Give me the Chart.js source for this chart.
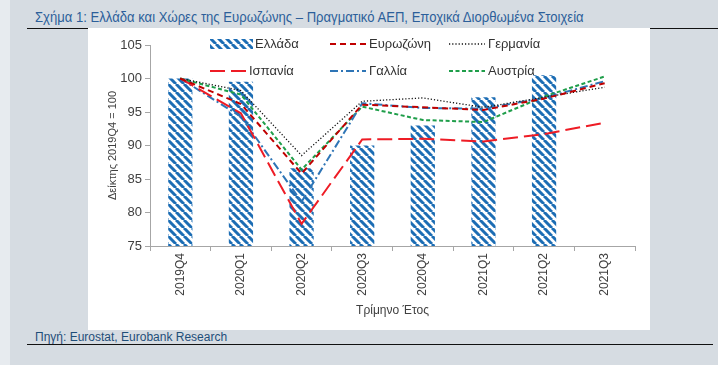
<!DOCTYPE html>
<html>
<head>
<meta charset="utf-8">
<script src="https://cdn.jsdelivr.net/npm/chart.js@4"></script>
<style>
  html, body { margin: 0; padding: 0; }
  body { width: 718px; height: 365px; background: #d6dce2; position: relative; overflow: hidden; font-family: "Liberation Sans", sans-serif; }
  #strip { position: absolute; left: 0; top: 0; width: 10px; height: 365px; background: #e7ebef; }
  #title { position: absolute; left: 35px; top: 9px; font-size: 14px; color: #2c5f9a; white-space: nowrap; transform: scaleX(0.935); transform-origin: left top; }
  #line1 { position: absolute; left: 27px; top: 28px; width: 691px; height: 1px; background: #111; }
  #panel { position: absolute; left: 88px; top: 28px; width: 562px; height: 302px; background: #fff; }
  #source { position: absolute; left: 35px; top: 330px; font-size: 12px; color: #1f4e79; white-space: nowrap; }
  #line2 { position: absolute; left: 27px; top: 344px; width: 686px; height: 1px; background: #111; }
</style>
</head>
<body>
<div id="strip"></div>
<div id="line1"></div>
<div id="title">Σχήμα 1: Ελλάδα και Χώρες της Ευρωζώνης – Πραγματικό ΑΕΠ, Εποχικά Διορθωμένα Στοιχεία</div>
<div id="panel"><canvas id="c" width="562" height="302"></canvas></div>
<div id="source">Πηγή: Eurostat, Eurobank Research</div>
<div id="line2"></div>
<script>
const quarters = ['2019Q4', '2020Q1', '2020Q2', '2020Q3', '2020Q4', '2021Q1', '2021Q2', '2021Q3'];
const greece   = [100, 99.5, 86.6, 90.0, 93.0, 97.2, 100.5, null];
const eurozone = [100, 96.2, 85.8, 96.1, 95.7, 95.3, 97.0, 99.3];
const germany  = [100, 98.2, 88.5, 96.6, 97.1, 95.7, 97.2, 98.7];
const spain    = [100, 94.8, 78.3, 90.9, 91.0, 90.6, 91.7, 93.4];
const france   = [100, 94.3, 81.6, 96.3, 95.6, 95.5, 97.1, 99.6];
const austria  = [100, 97.6, 86.4, 95.8, 93.8, 93.5, 97.3, 100.3];
const yTicks = [75, 80, 85, 90, 95, 100, 105];

Chart.defaults.font.family = '"Liberation Sans", sans-serif';
Chart.defaults.color = '#404040';

function hatch() {
  const c = document.createElement('canvas');
  c.width = 8; c.height = 8;
  const g = c.getContext('2d');
  g.fillStyle = '#fff';
  g.fillRect(0, 0, 8, 8);
  g.strokeStyle = '#1c6db4';
  g.lineWidth = 3;
  g.beginPath();
  for (let k = -8; k <= 16; k += 8) {
    g.moveTo(k, 0); g.lineTo(k + 8, 8);
  }
  g.stroke();
  return g.createPattern(c, 'repeat');
}

const ctx = document.getElementById('c').getContext('2d');
const pattern = hatch();

const lineStyle = (label, data, color, dash, width) => ({
  type: 'line', label, data, borderColor: color, borderDash: dash,
  borderWidth: width, pointRadius: 0, tension: 0, fill: false, order: 1
});

const datasets = [
  { type: 'bar', label: 'Ελλάδα', data: greece, backgroundColor: pattern, borderWidth: 0,
    barPercentage: 0.8, categoryPercentage: 0.5, order: 10 },
  lineStyle('Ευρωζώνη', eurozone, '#c00000', [6, 4], 2),
  lineStyle('Γερμανία', germany, '#111111', [1.2, 2], 1.3),
  lineStyle('Ισπανία', spain, '#ee1c25', [15, 6], 2),
  lineStyle('Γαλλία', france, '#2e75b6', [8, 3, 2, 3], 2),
  lineStyle('Αυστρία', austria, '#1f9e4a', [4, 2.5], 2)
];

// legend drawn over the plot, two rows of three
const overlayLegend = {
  id: 'overlayLegend',
  afterDatasetsDraw(chart) {
    const g = chart.ctx;
    const cols = [122, 242, 361];
    const rows = [16, 43];
    g.save();
    g.font = '13px "Liberation Sans", sans-serif';
    g.textBaseline = 'middle';
    chart.data.datasets.forEach((ds, n) => {
      const x = cols[n % 3], y = rows[Math.floor(n / 3)];
      if (ds.type === 'bar') {
        g.fillStyle = pattern;
        g.fillRect(x, y - 5, 43, 10);
      } else {
        g.strokeStyle = ds.borderColor;
        g.lineWidth = ds.borderWidth;
        g.setLineDash(ds.borderDash);
        g.beginPath();
        g.moveTo(x, y); g.lineTo(x + 36, y);
        g.stroke();
        g.setLineDash([]);
      }
      g.fillStyle = '#333';
      g.fillText(ds.label, x + (ds.type === 'bar' ? 45 : 39), y);
    });
    g.restore();
  }
};

new Chart(ctx, {
  data: { labels: quarters, datasets },
  plugins: [overlayLegend],
  options: {
    responsive: false,
    animation: false,
    devicePixelRatio: 1,
    layout: { padding: { top: 17, right: 15, left: 18, bottom: 12 } },
    plugins: { legend: { display: false }, tooltip: { enabled: false } },
    scales: {
      x: {
        offset: true,
        grid: { display: true, drawOnChartArea: false, offset: true, tickLength: 5, color: '#a6a6a6' },
        border: { color: '#a6a6a6' },
        ticks: { minRotation: 90, maxRotation: 90, font: { size: 12 }, color: '#404040', padding: 2 },
        title: { display: true, text: 'Τρίμηνο Έτος', font: { size: 12 }, color: '#404040', padding: { top: 2, bottom: 0 } },
        afterFit(s) { s.height = 72; }
      },
      y: {
        min: 75, max: 105,
        afterBuildTicks(s) { s.ticks = yTicks.map(v => ({ value: v })); },
        grid: { display: true, drawOnChartArea: false, tickLength: 5, color: '#a6a6a6' },
        border: { color: '#a6a6a6' },
        ticks: { font: { size: 13 }, color: '#404040', padding: 3 },
        title: { display: true, text: 'Δείκτης 2019Q4 = 100', font: { size: 11 }, color: '#404040', padding: 0 },
        afterFit(s) { s.width = 44; }
      }
    }
  }
});
</script>
</body>
</html>
